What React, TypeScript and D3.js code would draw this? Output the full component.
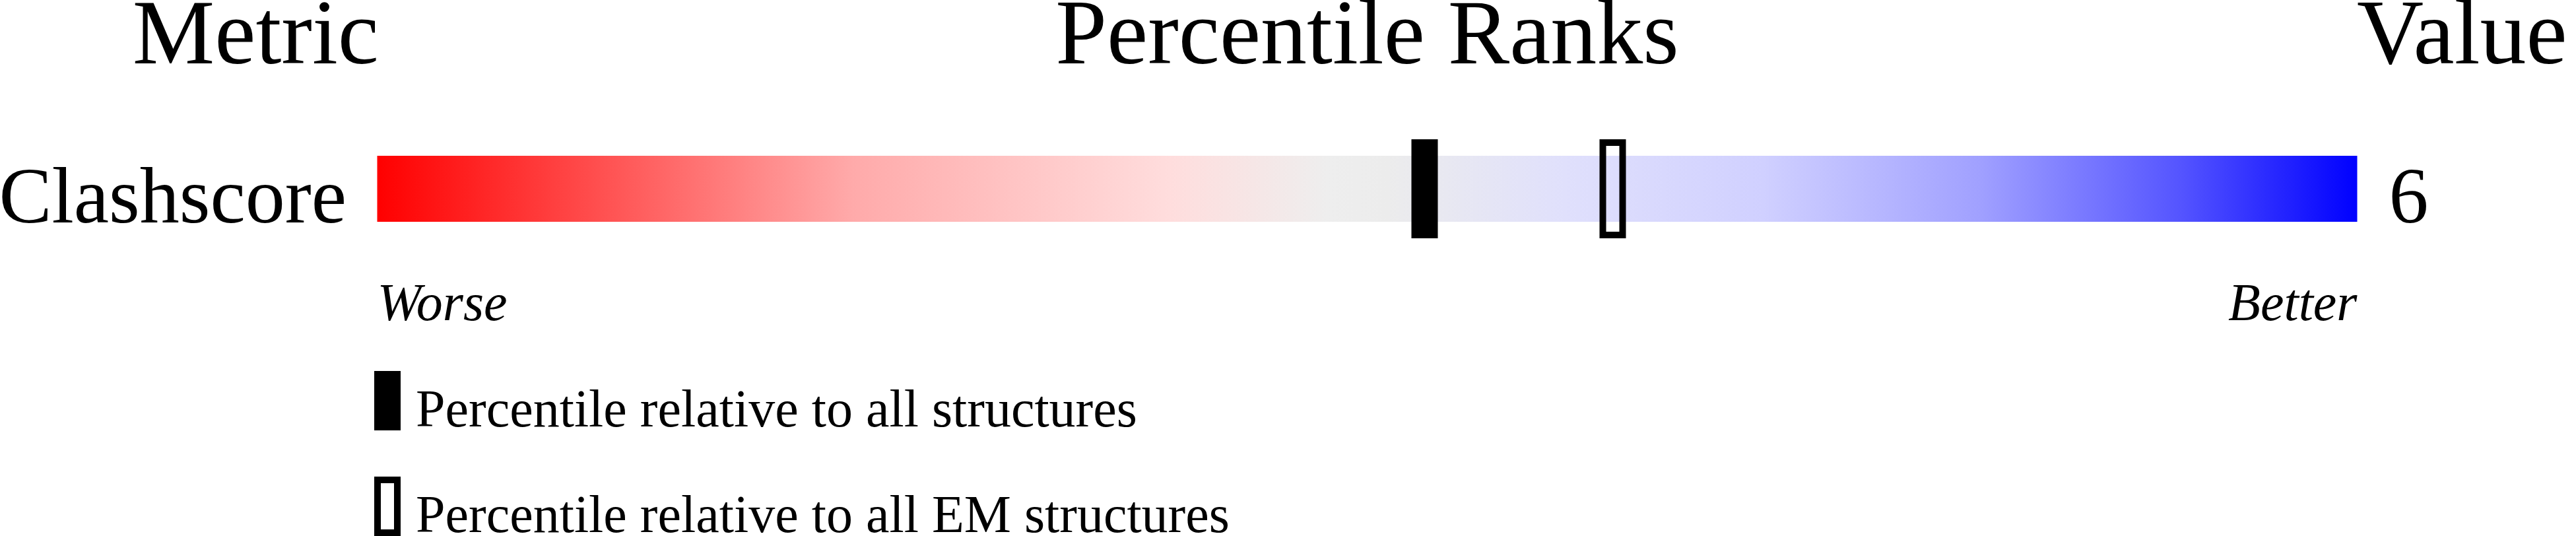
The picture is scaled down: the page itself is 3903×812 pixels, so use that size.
import React from "react";
import * as d3 from "d3";

// ---- data ----
const metrics = ["Clashscore"];
const metricValues = ["6"];
const percentileAll = [52.9];
const percentileEM = [62.4];
const headers = ["Metric", "Percentile Ranks", "Value"];
const scaleEnds = ["Worse", "Better"];
const legendLabels = [
  "Percentile relative to all structures",
  "Percentile relative to all EM structures",
];
const gradientOffsets = [0, 0.24, 0.4, 0.48, 0.51, 0.6, 0.7, 0.81, 0.91, 1];
const gradientColors = [
  "#ff0000",
  "#ffaaaa",
  "#ffdddd",
  "#eeeeee",
  "#ececec",
  "#e0e0fc",
  "#d0d0ff",
  "#a0a0ff",
  "#5555ff",
  "#0000ff",
];

const W = 3903;
const H = 812;
const FONT = "'Liberation Serif', 'Times New Roman', serif";

export default function App() {
  const x = d3.scaleLinear().domain([0, 100]).range([571.5, 3571.5]);
  const barTop = 236;
  const barH = 100;
  const rowY = d3.scaleBand().domain(metrics).range([barTop, barTop + barH]);
  const [x0, x1] = x.range();
  const mid = (x0 + x1) / 2;
  const markerW = 40;
  const markerOver = 25;

  return (
    <svg
      width={W}
      height={H}
      style={{ position: "absolute", left: 0, top: 0, background: "#fff" }}
      fontFamily={FONT}
    >
      <defs>
        <linearGradient id="grad" x1="0" x2="1" y1="0" y2="0">
          {gradientOffsets.map((o, i) => (
            <stop key={i} offset={o} stopColor={gradientColors[i]} />
          ))}
        </linearGradient>
      </defs>
      <rect x={0} y={0} width={W} height={H} fill="#fff" />
      {/* headers */}
      <text x={574} y={96} fontSize={140} textAnchor="end">
        {headers[0]}
      </text>
      <text x={mid} y={96} fontSize={140} textAnchor="middle">
        {headers[1]}
      </text>
      <text x={3571} y={96} fontSize={140} textAnchor="start">
        {headers[2]}
      </text>

      {metrics.map((m, i) => {
        const y = rowY(m) as number;
        const bh = rowY.bandwidth();
        const pa = x(percentileAll[i]);
        const pe = x(percentileEM[i]);
        return (
          <g key={m}>
            <text x={525} y={y + 101} fontSize={120} textAnchor="end">
              {m}
            </text>
            <rect x={x0} y={y} width={x1 - x0} height={bh} fill="url(#grad)" />
            <rect
              x={pa - markerW / 2}
              y={y - markerOver}
              width={markerW}
              height={bh + 2 * markerOver}
              fill="#000"
            />
            <rect
              x={pe - markerW / 2 + 5}
              y={y - markerOver + 5}
              width={markerW - 10}
              height={bh + 2 * markerOver - 10}
              fill="none"
              stroke="#000"
              strokeWidth={10}
            />
            <text x={x1 + 48} y={y + 101} fontSize={120} textAnchor="start">
              {metricValues[i]}
            </text>
            <text x={x0} y={y + 249} fontSize={80} fontStyle="italic" textAnchor="start">
              {scaleEnds[0]}
            </text>
            <text x={x1} y={y + 249} fontSize={80} fontStyle="italic" textAnchor="end">
              {scaleEnds[1]}
            </text>
          </g>
        );
      })}

      {/* legend */}
      <rect x={567} y={562} width={40} height={90} fill="#000" />
      <text x={630} y={646} fontSize={80}>
        {legendLabels[0]}
      </text>
      <rect x={572} y={727} width={30} height={80} fill="none" stroke="#000" strokeWidth={10} />
      <text x={630} y={806} fontSize={80}>
        {legendLabels[1]}
      </text>
    </svg>
  );
}
